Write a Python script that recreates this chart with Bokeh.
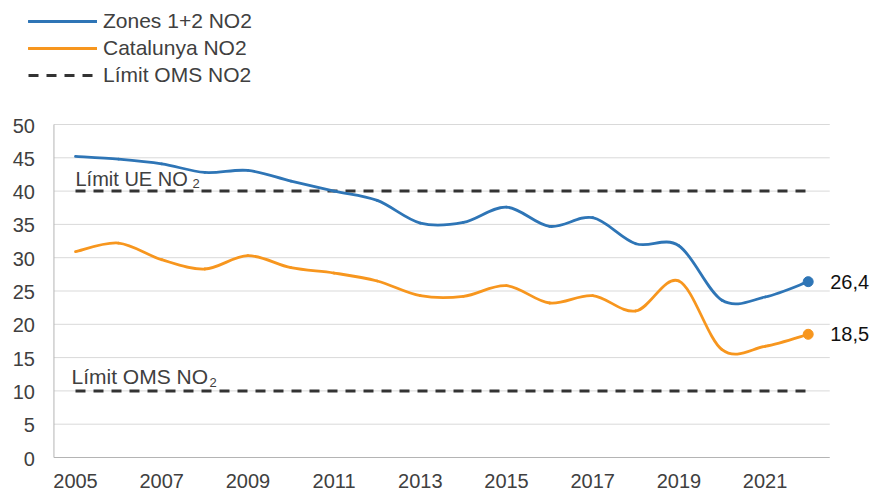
from bokeh.plotting import figure
from bokeh.models import Range1d, Legend, LegendItem, ColumnDataSource
from bokeh.core.properties import value
from bokeh.embed import file_html
from bokeh.resources import INLINE
import numpy as np

# ---- data ----
years = list(range(2005, 2023))
zones = [45.2, 44.8, 44.1, 42.8, 43.1, 41.5, 40.0, 38.6, 35.2, 35.3,
         37.6, 34.7, 36.0, 32.1, 31.8, 23.6, 24.1, 26.4]
catalunya = [30.9, 32.2, 29.7, 28.3, 30.3, 28.5, 27.7, 26.5, 24.3, 24.2,
             25.8, 23.2, 24.3, 22.0, 26.5, 16.2, 16.7, 18.5]
limit_ue = 40
limit_oms = 10
series_names = ["Zones 1+2 NO2", "Catalunya NO2", "Límit OMS NO2"]
limit_labels = ["Límit UE NO", "Límit OMS NO"]
x_ticks = [2005, 2007, 2009, 2011, 2013, 2015, 2017, 2019, 2021]
y_ticks = [0, 5, 10, 15, 20, 25, 30, 35, 40, 45, 50]

BLUE = "#2e75b6"
ORANGE = "#f7961e"
DARK = "#333333"
TXT = "#404040"
AXIS = "#b4b4b4"
GRID = "#d9d9d9"
FONT = "Liberation Sans"

# ---- layout (canvas pixels) ----
W, H = 872, 491
PX_YEAR = 43.1          # pixels per year
PX_UNIT = 333 / 50.0    # pixels per unit of NO2
X_2005 = 75             # canvas x of year 2005
Y_ZERO = 457            # canvas y of value 0
x_start = 2005 - X_2005 / PX_YEAR
x_end = x_start + W / PX_YEAR
y_start = -(H - Y_ZERO) / PX_UNIT
y_end = y_start + H / PX_UNIT
x_lo, x_hi = years[0] - 0.5, years[-1] + 0.5


def bezier_source(xs, ys):
    x = np.array(xs, float)
    y = np.array(ys, float)
    n = len(x)
    xp = np.concatenate([[x[0]], x, [x[-1]]])
    yp = np.concatenate([[y[0]], y, [y[-1]]])
    return ColumnDataSource(dict(
        x0=x[:-1], y0=y[:-1], x1=x[1:], y1=y[1:],
        cx0=x[:-1] + (xp[2:n + 1] - xp[0:n - 1]) / 6.0,
        cy0=y[:-1] + (yp[2:n + 1] - yp[0:n - 1]) / 6.0,
        cx1=x[1:] - (xp[3:n + 2] - xp[1:n]) / 6.0,
        cy1=y[1:] - (yp[3:n + 2] - yp[1:n]) / 6.0,
    ))


p = figure(width=W, height=H, output_backend="svg", toolbar_location=None,
           x_range=Range1d(x_start, x_end), y_range=Range1d(y_start, y_end),
           x_axis_location=None, y_axis_location=None, min_border=0)
p.outline_line_color = None
p.grid.visible = False
p.background_fill_color = "white"
p.border_fill_color = "white"

# gridlines and axis lines
gy = [t for t in y_ticks if t != 0]
p.segment(x0=[x_lo] * len(gy), y0=gy, x1=[x_hi] * len(gy), y1=gy,
          line_color=GRID, line_width=1)
p.segment(x0=[x_lo, x_lo], y0=[0, 0], x1=[x_lo, x_hi], y1=[y_ticks[-1], 0],
          line_color=AXIS, line_width=1)

# tick labels
p.text(x=[x_lo] * len(y_ticks), y=y_ticks, text=[str(t) for t in y_ticks],
       x_offset=-19, y_offset=1, text_align="right", text_baseline="alphabetic",
       text_font=value(FONT), text_font_size="20px", text_color=TXT)
p.text(x=x_ticks, y=[0] * len(x_ticks), text=[str(t) for t in x_ticks],
       y_offset=23, text_align="center", text_baseline="alphabetic",
       text_font=value(FONT), text_font_size="20px", text_color=TXT)

# limit lines
r_ue = p.line([years[0], years[-1]], [limit_ue, limit_ue], line_color=DARK,
              line_width=3, line_dash="10 8")
r_oms = p.line([years[0], years[-1]], [limit_oms, limit_oms], line_color=DARK,
               line_width=3, line_dash="10 8")

# limit labels with subscript
for lim, txt, xo, yo, fs, sub_x, sub_yo in (
        (limit_ue, limit_labels[0], 0, -12.6, "20px", 117, -7.8),
        (limit_oms, limit_labels[1], -4, -14.5, "21px", 138, -8.9)):
    p.text(x=[years[0]], y=[lim], text=[txt], x_offset=xo, y_offset=yo,
           text_baseline="alphabetic", text_font=value(FONT),
           text_font_size=fs, text_color=TXT)
    p.text(x=[years[0]], y=[lim], text=["2"], x_offset=xo + sub_x, y_offset=sub_yo,
           text_baseline="alphabetic", text_font=value(FONT),
           text_font_size="13px", text_color=TXT)

# smoothed series
r_z = p.bezier(x0="x0", y0="y0", x1="x1", y1="y1", cx0="cx0", cy0="cy0",
               cx1="cx1", cy1="cy1", source=bezier_source(years, zones),
               line_color=BLUE, line_width=2.8, line_cap="round")
r_c = p.bezier(x0="x0", y0="y0", x1="x1", y1="y1", cx0="cx0", cy0="cy0",
               cx1="cx1", cy1="cy1", source=bezier_source(years, catalunya),
               line_color=ORANGE, line_width=2.8, line_cap="round")

p.scatter([years[-1]], [zones[-1]], size=10, color=BLUE)
p.scatter([years[-1]], [catalunya[-1]], size=10, color=ORANGE)

end_vals = [zones[-1], catalunya[-1]]
p.text(x=[years[-1]] * 2, y=end_vals,
       text=[f"{v:.1f}".replace(".", ",") for v in end_vals],
       x_offset=22, y_offset=0, text_baseline="alphabetic",
       text_font=value(FONT), text_font_size="20px", text_color="#111111")

legend = Legend(items=[LegendItem(label=series_names[0], renderers=[r_z]),
                       LegendItem(label=series_names[1], renderers=[r_c]),
                       LegendItem(label=series_names[2], renderers=[r_oms])],
                location=(28, 404), orientation="vertical",
                glyph_width=69, glyph_height=24, label_height=24,
                label_standoff=6, spacing=3, padding=0, margin=0,
                border_line_color=None, background_fill_alpha=0,
                label_text_font=FONT, label_text_font_size="21px",
                label_text_color=TXT)
p.add_layout(legend, "center")

open("out.html", "w").write(file_html(p, INLINE))
